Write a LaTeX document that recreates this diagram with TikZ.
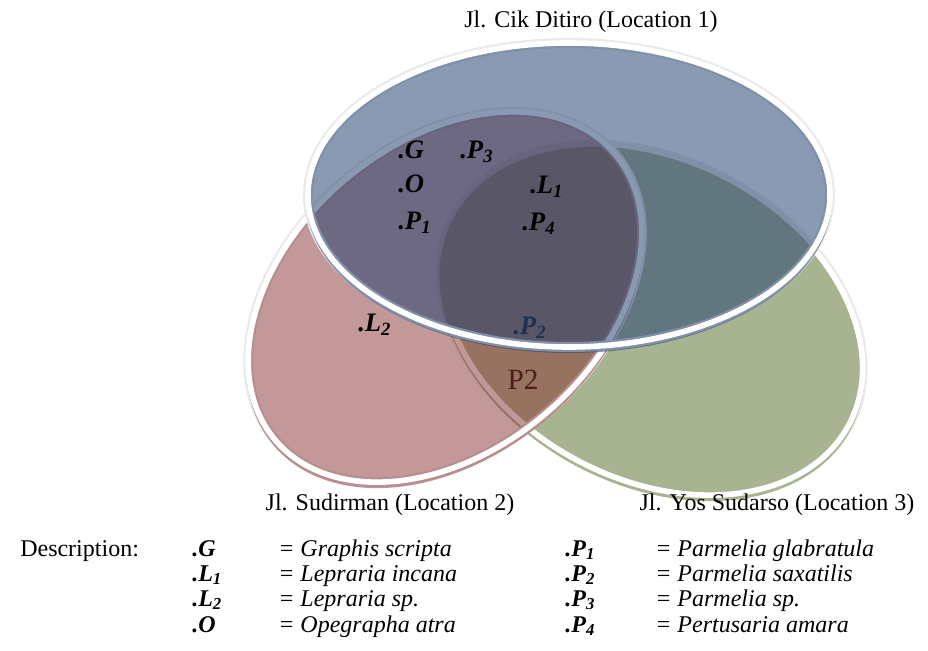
\documentclass[tikz,border=0pt]{standalone}
\usepackage{fontspec}
\setmainfont{Liberation Serif}
\definecolor{locblue}{RGB}{34,64,111}
\definecolor{locred}{RGB}{135,49,49}
\definecolor{locgreen}{RGB}{168,180,145}
\definecolor{rimgray}{RGB}{234,234,234}
\definecolor{labnavy}{RGB}{30,48,80}
\definecolor{labmaroon}{RGB}{80,28,28}
\newcommand{\taxon}[2]{\textbf{\textit{.#1}}\textsubscript{\textbf{\textit{#2}}}}
\begin{document}
\begin{tikzpicture}[x=0.75pt,y=-0.75pt,font=\fontsize{18}{21}\selectfont]

\tikzstyle{glow}=[draw=rimgray,line width=7.5pt]
\tikzstyle{rim}=[draw=white,line width=4.2pt]
\tikzstyle{lbl}=[anchor=base west,inner sep=0pt,font=\fontsize{20}{24}\selectfont]
\tikzstyle{key}=[anchor=base west,inner sep=0pt,font=\fontsize{18}{21}\selectfont\itshape]
\tikzstyle{keylbl}=[anchor=base west,inner sep=0pt]

\useasboundingbox (0,0) rectangle (928,650);

\draw[glow,rotate around={-28:(652,320)}] (652,320) ellipse [x radius=223,y radius=159];
\fill[locgreen,shift={(0,4)},rotate around={-28:(652,320)}] (652,320) ellipse [x radius=225,y radius=161];
\begin{scope}[even odd rule]
\clip (0,0) rectangle (928,650) (569,195) ellipse [x radius=261,y radius=152];
\draw[rim,rotate around={-28:(652,320)}] (652,320) ellipse [x radius=223,y radius=159];
\end{scope}

\draw[glow,rotate around={40:(445,297)}] (445,297) ellipse [x radius=222,y radius=154];
\fill[locred,fill opacity=0.5,shift={(0,4)},rotate around={40:(445,297)}] (445,297) ellipse [x radius=224,y radius=156];
\draw[rim,rotate around={40:(445,297)}] (445,297) ellipse [x radius=222,y radius=154];

\draw[glow] (569,195) ellipse [x radius=261,y radius=152];
\fill[locblue,fill opacity=0.53,shift={(0,4)}] (569,195) ellipse [x radius=263,y radius=154];
\draw[rim] (569,195) ellipse [x radius=261,y radius=152];

\node (loc1) at (591,22) {Jl. Cik Ditiro (Location 1)};
\node (loc2) at (390,505) {Jl. Sudirman (Location 2)};
\node (loc3) at (777,505) {Jl. Yos Sudarso (Location 3)};

\node[lbl] (g) at (398,158) {\textbf{\textit{.G}}};
\node[lbl] (p3) at (460,158) {\taxon{P}{3}};
\node[lbl] (o) at (398,192) {\textbf{\textit{.O}}};
\node[lbl] (p1) at (398,229) {\taxon{P}{1}};
\node[lbl] (l1) at (530,193) {\taxon{L}{1}};
\node[lbl] (p4) at (522,230) {\taxon{P}{4}};
\node[lbl] (l2) at (358,331) {\taxon{L}{2}};
\node[lbl,text=labnavy] (p2) at (513,334) {\taxon{P}{2}};
\node[text=labmaroon,font=\fontsize{22}{26}\selectfont] (pp2) at (523,380) {P2};

\node[keylbl] (desc) at (20,556) {Description:};
\node[keylbl] (kg) at (192,556) {\textbf{\textit{.G}}};
\node[key] (vg) at (278,556) {= Graphis scripta};
\node[keylbl] (kl1) at (192,581) {\taxon{L}{1}};
\node[key] (vl1) at (278,581) {= Lepraria incana};
\node[keylbl] (kl2) at (192,606) {\taxon{L}{2}};
\node[key] (vl2) at (278,606) {= Lepraria sp.};
\node[keylbl] (ko) at (192,632) {\textbf{\textit{.O}}};
\node[key] (vo) at (278,632) {= Opegrapha atra};
\node[keylbl] (kp1) at (565,556) {\taxon{P}{1}};
\node[key] (vp1) at (655,556) {= Parmelia glabratula};
\node[keylbl] (kp2) at (565,581) {\taxon{P}{2}};
\node[key] (vp2) at (655,581) {= Parmelia saxatilis};
\node[keylbl] (kp3) at (565,606) {\taxon{P}{3}};
\node[key] (vp3) at (655,606) {= Parmelia sp.};
\node[keylbl] (kp4) at (565,632) {\taxon{P}{4}};
\node[key] (vp4) at (655,632) {= Pertusaria amara};
\end{tikzpicture}
\end{document}
